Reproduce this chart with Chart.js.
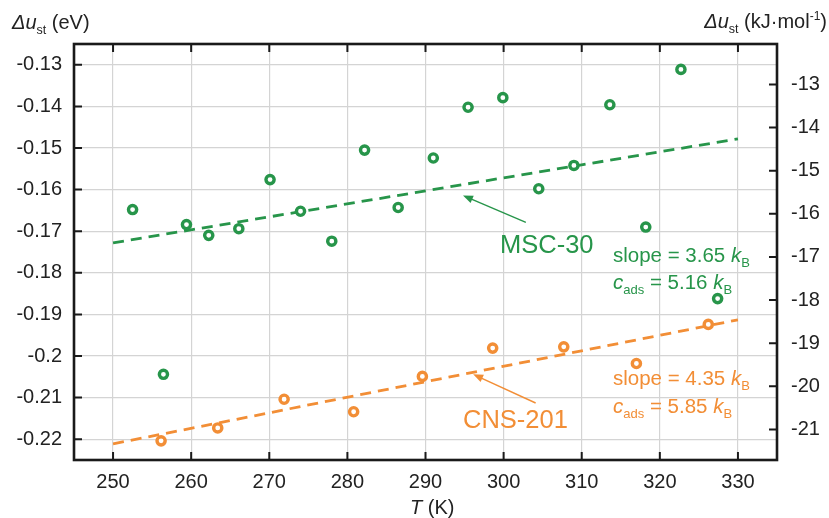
<!DOCTYPE html>
<html>
<head>
<meta charset="utf-8">
<script src="https://cdn.jsdelivr.net/npm/chart.js@4.4.0/dist/chart.umd.min.js"></script>
<style>
  html, body { margin: 0; padding: 0; background: #fff; }
  #wrap { width: 829px; height: 518px; }
</style>
</head>
<body>
<div id="wrap"><canvas id="myChart" width="829" height="518"></canvas></div>
<script>
// data
var mscT = [252.5, 256.45, 259.4, 262.25, 266.1, 270.1, 274.0, 278.0, 282.2, 286.5, 291.0, 295.45, 299.9, 304.5, 309.0, 313.6, 318.2, 322.7, 327.4];
var mscU = [-0.1648, -0.2044, -0.1684, -0.1710, -0.1694, -0.1576, -0.1652, -0.1724, -0.1505, -0.1643, -0.1524, -0.1402, -0.1379, -0.1598, -0.1542, -0.1396, -0.1690, -0.1311, -0.1862];
var cnsT = [256.15, 263.4, 271.9, 280.8, 289.6, 298.6, 307.7, 317.0, 326.2];
var cnsU = [-0.2204, -0.2173, -0.2104, -0.2134, -0.2049, -0.1981, -0.1978, -0.2018, -0.1924];
var fitT = [250, 330];
var mscFit = [-0.1728, -0.1478];
var cnsFit = [-0.2211, -0.1913];
var xTicks = [250, 260, 270, 280, 290, 300, 310, 320, 330];
var evTicks = [-0.13, -0.14, -0.15, -0.16, -0.17, -0.18, -0.19, -0.2, -0.21, -0.22];
var kjTicks = [-13, -14, -15, -16, -17, -18, -19, -20, -21];
var evPerKJ = 96.485;

var GREEN = '#27954a';
var ORANGE = '#f28e36';
var FONT = '"Liberation Sans", Arial, sans-serif';

function pts(xs, ys) {
  return xs.map(function (x, i) { return { x: x, y: ys[i] }; });
}
function fixTicks(list) {
  return function (s) { s.ticks = list.map(function (v) { return { value: v }; }); };
}

// draw text made of runs (italic / subscript / superscript)
function drawRuns(ctx, x, y, parts, color, alignRight) {
  ctx.save();
  ctx.fillStyle = color;
  ctx.textBaseline = 'alphabetic';
  ctx.textAlign = 'left';
  var setFont = function (p) { ctx.font = (p.it ? 'italic ' : '') + p.sz + 'px ' + FONT; };
  if (alignRight) {
    var w = 0;
    parts.forEach(function (p) { setFont(p); w += ctx.measureText(p.t).width; });
    x -= w;
  }
  var cx = x;
  parts.forEach(function (p) {
    setFont(p);
    var dy = p.sub ? 5 : (p.sup ? -8 : 0);
    ctx.fillText(p.t, cx, y + dy);
    cx += ctx.measureText(p.t).width;
  });
  ctx.restore();
}

function arrow(ctx, x1, y1, x2, y2, color) {
  var a = Math.atan2(y2 - y1, x2 - x1);
  ctx.save();
  ctx.strokeStyle = color;
  ctx.fillStyle = color;
  ctx.lineWidth = 1.4;
  ctx.beginPath();
  ctx.moveTo(x1, y1);
  ctx.lineTo(x2 - 6 * Math.cos(a), y2 - 6 * Math.sin(a));
  ctx.stroke();
  ctx.beginPath();
  ctx.moveTo(x2, y2);
  ctx.lineTo(x2 - 10 * Math.cos(a) + 4 * Math.sin(a), y2 - 10 * Math.sin(a) - 4 * Math.cos(a));
  ctx.lineTo(x2 - 10 * Math.cos(a) - 4 * Math.sin(a), y2 - 10 * Math.sin(a) + 4 * Math.cos(a));
  ctx.closePath();
  ctx.fill();
  ctx.restore();
}

var framePlugin = {
  id: 'frame',
  afterDraw: function (chart) {
    var ctx = chart.ctx, a = chart.chartArea;
    var sx = chart.scales.x, sy = chart.scales.y, sy2 = chart.scales.y2;
    ctx.save();
    ctx.strokeStyle = '#1a1a1a';
    ctx.lineWidth = 2;
    var L = 8;
    ctx.beginPath();
    sx.ticks.forEach(function (t) {
      var p = sx.getPixelForValue(t.value);
      ctx.moveTo(p, a.top); ctx.lineTo(p, a.top + L);
      ctx.moveTo(p, a.bottom); ctx.lineTo(p, a.bottom - L);
    });
    sy.ticks.forEach(function (t) {
      var p = sy.getPixelForValue(t.value);
      ctx.moveTo(a.left, p); ctx.lineTo(a.left + L, p);
    });
    sy2.ticks.forEach(function (t) {
      var p = sy2.getPixelForValue(t.value);
      ctx.moveTo(a.right, p); ctx.lineTo(a.right - L, p);
    });
    ctx.stroke();
    ctx.lineWidth = 2.6;
    ctx.strokeRect(a.left, a.top, a.right - a.left, a.bottom - a.top);
    ctx.restore();

    // axis titles
    var dark = '#222';
    drawRuns(ctx, 12, 29, [{ t: 'Δu', it: true, sz: 20 }, { t: 'st', sub: true, sz: 12.5 }, { t: ' (eV)', sz: 20 }], dark);
    drawRuns(ctx, 827, 28, [{ t: 'Δu', it: true, sz: 20 }, { t: 'st', sub: true, sz: 12.5 }, { t: ' (kJ·mol', sz: 20 }, { t: '-1', sup: true, sz: 12 }, { t: ')', sz: 20 }], dark, true);
    drawRuns(ctx, 410, 514, [{ t: 'T', it: true, sz: 20 }, { t: ' (K)', sz: 20 }], dark);

    // annotations
    drawRuns(ctx, 500, 253, [{ t: 'MSC-30', sz: 25.5 }], GREEN);
    drawRuns(ctx, 463, 428, [{ t: 'CNS-201', sz: 25.5 }], ORANGE);
    drawRuns(ctx, 613, 262, [{ t: 'slope = 3.65 ', sz: 20.5 }, { t: 'k', it: true, sz: 20.5 }, { t: 'B', sub: true, sz: 13 }], GREEN);
    drawRuns(ctx, 613, 289, [{ t: 'c', it: true, sz: 20.5 }, { t: 'ads', sub: true, sz: 13 }, { t: ' = 5.16 ', sz: 20.5 }, { t: 'k', it: true, sz: 20.5 }, { t: 'B', sub: true, sz: 13 }], GREEN);
    drawRuns(ctx, 613, 385, [{ t: 'slope = 4.35 ', sz: 20.5 }, { t: 'k', it: true, sz: 20.5 }, { t: 'B', sub: true, sz: 13 }], ORANGE);
    drawRuns(ctx, 613, 413, [{ t: 'c', it: true, sz: 20.5 }, { t: 'ads', sub: true, sz: 13 }, { t: ' = 5.85 ', sz: 20.5 }, { t: 'k', it: true, sz: 20.5 }, { t: 'B', sub: true, sz: 13 }], ORANGE);

    arrow(ctx, sx.getPixelForValue(302.85), sy.getPixelForValue(-0.1679), sx.getPixelForValue(294.8), sy.getPixelForValue(-0.1614), GREEN);
    arrow(ctx, sx.getPixelForValue(304.1), sy.getPixelForValue(-0.2113), sx.getPixelForValue(296.1), sy.getPixelForValue(-0.2044), ORANGE);
  }
};

var ctx = document.getElementById('myChart').getContext('2d');
var chart = new Chart(ctx, {
  type: 'scatter',
  data: {
    datasets: [
      {
        label: 'MSC-30 fit', type: 'line', data: pts(fitT, mscFit),
        borderColor: GREEN, borderWidth: 2.8, borderDash: [11, 7],
        pointRadius: 0, fill: false, order: 3
      },
      {
        label: 'CNS-201 fit', type: 'line', data: pts(fitT, cnsFit),
        borderColor: ORANGE, borderWidth: 2.8, borderDash: [11, 7],
        pointRadius: 0, fill: false, order: 3
      },
      {
        label: 'MSC-30', data: pts(mscT, mscU),
        borderColor: GREEN, backgroundColor: '#fff',
        pointRadius: 4.1, pointBorderWidth: 3.4, order: 1
      },
      {
        label: 'CNS-201', data: pts(cnsT, cnsU),
        borderColor: ORANGE, backgroundColor: '#fff',
        pointRadius: 4.1, pointBorderWidth: 3.4, order: 1
      }
    ]
  },
  options: {
    responsive: false,
    animation: false,
    layout: { padding: { top: 44, left: 0, right: 0, bottom: 0 } },
    plugins: { legend: { display: false }, tooltip: { enabled: false } },
    scales: {
      x: {
        type: 'linear', position: 'bottom', min: 245, max: 335,
        afterFit: function (s) { s.height = 58; },
        afterBuildTicks: fixTicks(xTicks),
        ticks: { color: '#222', font: { size: 20, family: FONT }, padding: 10, maxRotation: 0 },
        grid: { color: '#d4d4d4', lineWidth: 1.2, drawTicks: false },
        border: { display: false }
      },
      y: {
        position: 'left', min: -0.225, max: -0.125,
        afterFit: function (s) { s.width = 74; },
        afterBuildTicks: fixTicks(evTicks),
        ticks: {
          color: '#222', padding: 12,
          font: { size: 20, family: FONT },
          callback: function (v) { return String(parseFloat(v.toFixed(3))); }
        },
        grid: { color: '#d4d4d4', lineWidth: 1.2, drawTicks: false },
        border: { display: false }
      },
      y2: {
        position: 'right', min: -0.225 * evPerKJ, max: -0.125 * evPerKJ,
        afterFit: function (s) { s.width = 52; },
        afterBuildTicks: fixTicks(kjTicks),
        ticks: {
          color: '#222', padding: 14,
          font: { size: 20, family: FONT },
          callback: function (v) { return String(Math.round(v)); }
        },
        grid: { display: false, drawTicks: false },
        border: { display: false }
      }
    }
  },
  plugins: [framePlugin]
});
</script>
</body>
</html>
